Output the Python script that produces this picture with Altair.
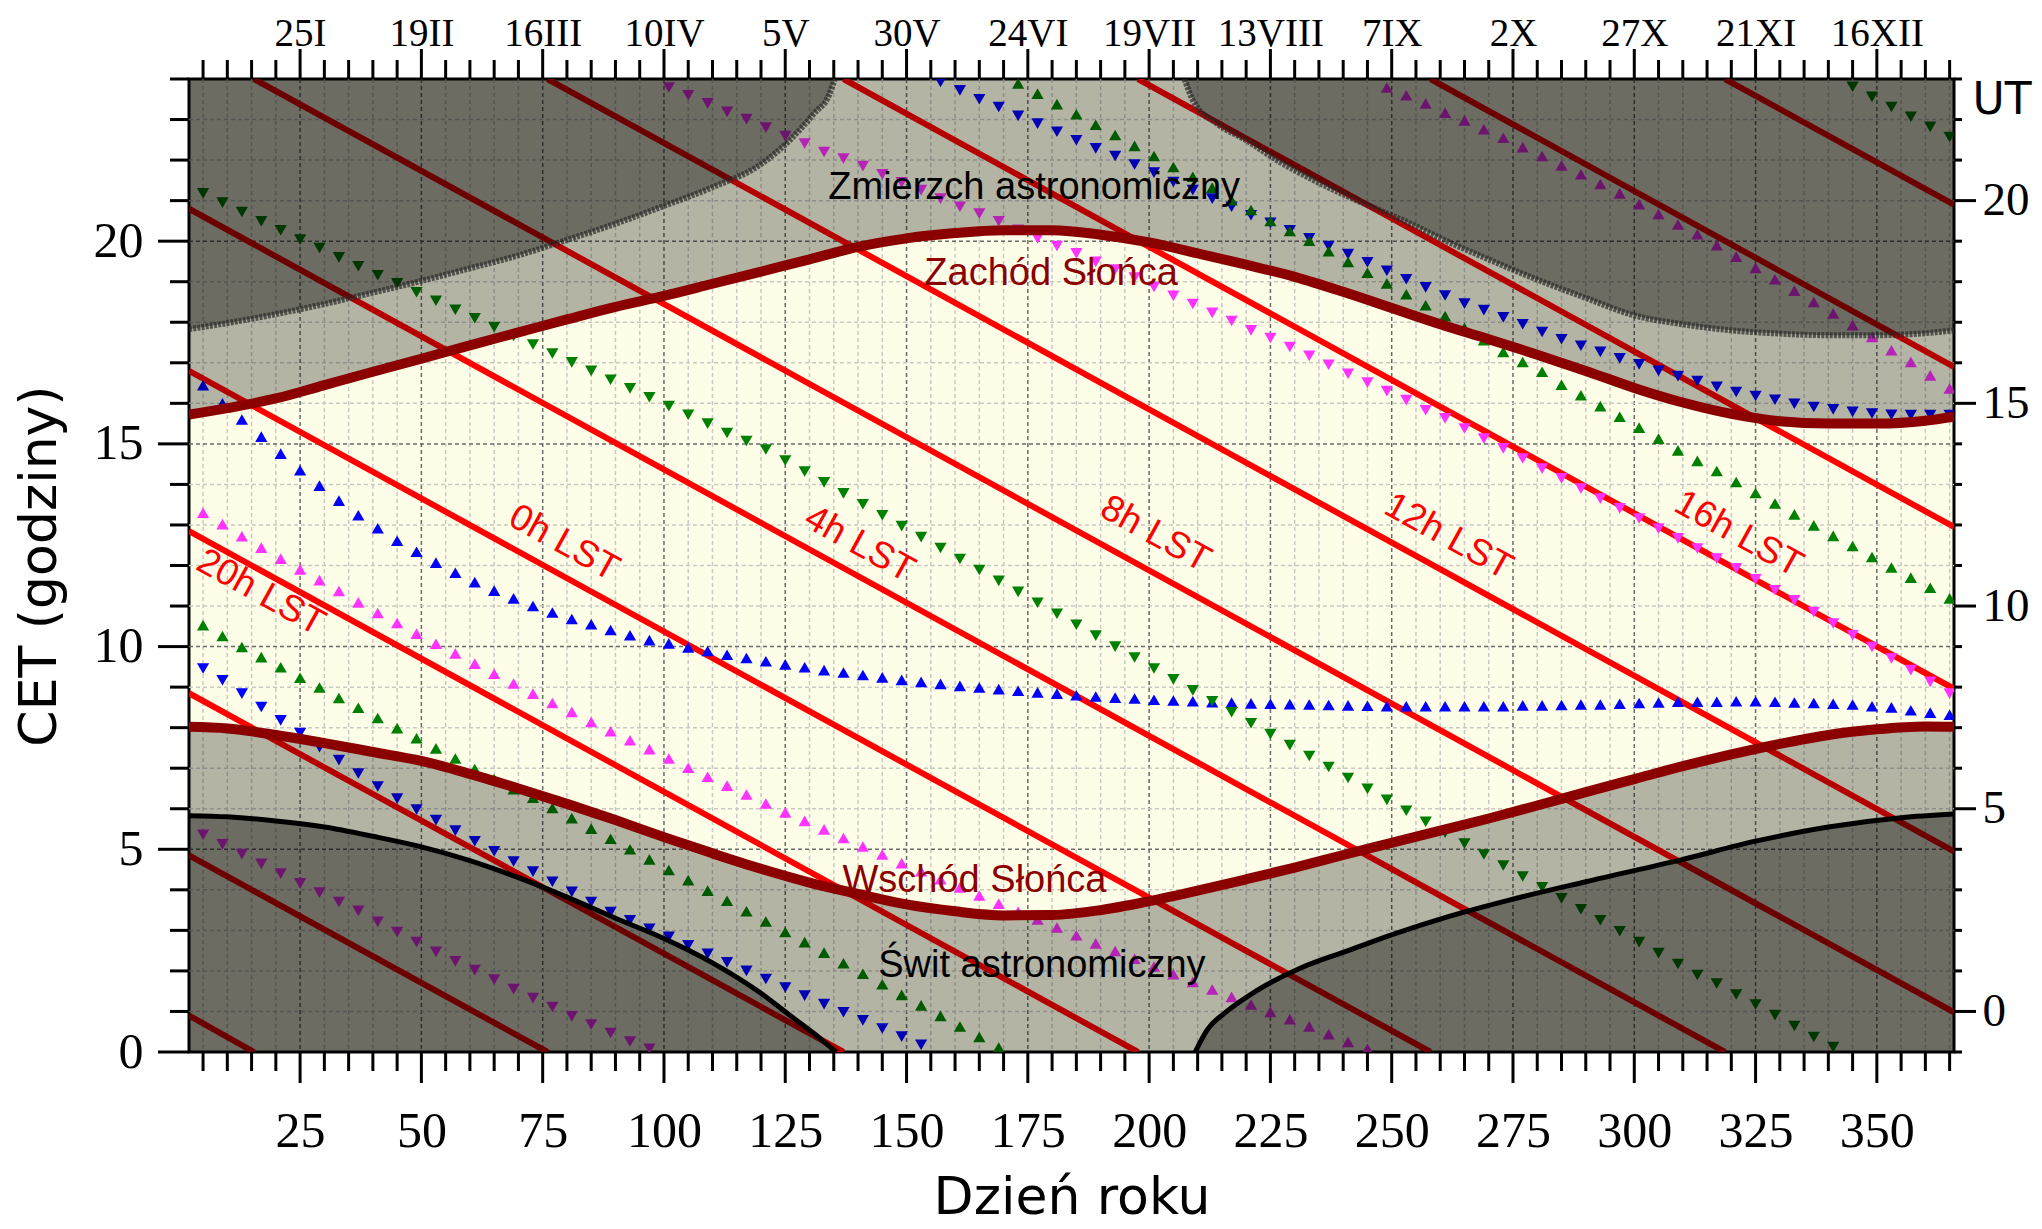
import altair as alt
import pandas as pd

# ---------------- data ----------------
X_MIN, X_MAX = 2.1, 365.9
W, H = 1765, 973

marker_days = list(range(5, 366, 4))

blue_up = [16.45, 16.0, 15.6, 15.18,
           14.76, 14.35, 13.97, 13.6, 13.24, 12.92, 12.61, 12.34, 12.07, 11.82, 11.59, 11.38, 11.19, 11.0, 10.84, 10.68, 10.55, 10.41, 10.28, 10.16, 10.08,
           9.98, 9.89, 9.8, 9.72, 9.64, 9.56, 9.49, 9.42, 9.36, 9.3, 9.24, 9.18, 9.13, 9.08, 9.03, 8.99, 8.95, 8.91, 8.87, 8.84, 8.8, 8.77, 8.74, 8.72, 8.69, 8.67, 8.65, 8.63, 8.62, 8.6, 8.59, 8.58, 8.57, 8.56, 8.55, 8.54, 8.53,
           8.53, 8.53, 8.53, 8.53, 8.53, 8.53, 8.55, 8.55, 8.56, 8.57, 8.57, 8.59, 8.61, 8.62, 8.64, 8.64, 8.64, 8.65, 8.65, 8.64, 8.62, 8.61, 8.59, 8.57, 8.53, 8.5, 8.43, 8.37, 8.32]

blue_dn = [9.46, 9.17, 8.84, 8.51, 8.18, 7.87,
           7.52, 7.2, 6.87, 6.55, 6.25,
           5.98, 5.72, 5.46, 5.2, 4.95, 4.7, 4.45, 4.2, 3.95,
           3.7, 3.45, 3.25, 3.04, 2.84, 2.63,
           2.42, 2.21, 2.0, 1.8, 1.59, 1.39, 1.18, 0.98, 0.78, 0.58, 0.38, 0.18, 23.93,
           23.72, 23.5, 23.31, 23.09, 22.9, 22.7, 22.49, 22.29, 22.1, 21.89, 21.69, 21.46, 21.26, 21.05, 20.85, 20.64, 20.45, 20.27, 20.07, 19.88,
           19.68, 19.48, 19.27, 19.06, 18.86, 18.66,
           18.46, 18.3, 18.12, 17.95, 17.76, 17.58, 17.42, 17.27, 17.11, 16.96, 16.8, 16.67, 16.55, 16.41, 16.28, 16.18, 16.09, 15.99, 15.91, 15.85, 15.79, 15.75, 15.72, 15.71, 15.71, 15.71]

green_up = [10.53, 10.26, 9.99, 9.74, 9.49, 9.23, 8.99, 8.73, 8.49, 8.24, 7.99, 7.74, 7.49, 7.24, 6.98, 6.73, 6.48, 6.27,
            6.02, 5.77, 5.51, 5.26, 5.0, 4.75, 4.49, 4.24, 3.98, 3.73, 3.47, 3.22, 2.96, 2.71, 2.45, 2.19, 1.93, 1.67, 1.41, 1.15, 0.89, 0.63, 0.37, 0.11,
            23.89, 23.64, 23.38, 23.13, 22.87, 22.62, 22.35, 22.1, 21.83, 21.59, 21.32, 21.01, 20.77, 20.5, 20.25, 20.01,
            19.75, 19.49, 19.22, 18.96, 18.69, 18.42, 18.15, 17.86, 17.56,
            17.27, 17.02, 16.78, 16.46, 16.2, 15.93, 15.67, 15.4, 15.13, 14.84, 14.58, 14.33, 14.06, 13.79, 13.53, 13.26, 12.99, 12.73, 12.48, 12.21, 11.95, 11.7, 11.45, 11.19]

green_dn = [21.18, 20.95, 20.72, 20.49, 20.27, 20.04, 19.83, 19.6, 19.38, 19.16, 18.96,
            18.74, 18.53, 18.31, 18.1, 17.88, 17.66, 17.45, 17.23, 17.01, 16.8, 16.58, 16.37, 16.15, 15.93, 15.72,
            15.5, 15.27, 15.07, 14.86,
            14.59, 14.32, 14.05, 13.78, 13.51, 13.24, 12.97, 12.7, 12.43, 12.16, 11.89, 11.62, 11.35, 11.08, 10.81, 10.54, 10.27, 10.0, 9.73, 9.46, 9.19, 8.92, 8.65, 8.38, 8.11, 7.84, 7.57, 7.3, 7.03, 6.76, 6.49, 6.22, 5.95, 5.68, 5.41, 5.14, 4.87, 4.6, 4.33, 4.06, 3.79, 3.52, 3.25, 2.98, 2.71, 2.44, 2.17, 1.9,
            1.69, 1.42, 1.17, 0.91, 0.64, 0.37, 0.12,
            23.81, 23.56, 23.31, 23.07, 22.82, 22.57]

mag_up = [13.3, 13.02, 12.72, 12.44, 12.17, 11.9, 11.64, 11.37, 11.09, 10.83, 10.58, 10.32, 10.07, 9.83, 9.58, 9.33, 9.09, 8.84, 8.61, 8.39, 8.14, 7.91, 7.69, 7.47, 7.24,
          7.01, 6.79, 6.57, 6.35, 6.13, 5.91, 5.7, 5.49, 5.28, 5.07, 4.87, 4.66, 4.46, 4.26, 4.06, 3.86, 3.66, 3.46, 3.27, 3.07, 2.88, 2.68, 2.49, 2.3, 2.11, 1.92, 1.73, 1.54, 1.36, 1.17, 0.99, 0.81, 0.63, 0.44, 0.25, 0.08,
          23.79, 23.6, 23.4, 23.17, 22.98, 22.76,
          22.55, 22.32, 22.1, 21.87, 21.65, 21.41, 21.18, 20.91, 20.67, 20.41, 20.17, 19.9,
          19.62, 19.34, 19.06, 18.78,
          18.5, 18.22, 17.93, 17.64, 17.31, 17.02, 16.69, 16.37]

mag_dn = [5.36, 5.12, 4.88, 4.64, 4.4, 4.16, 3.93,
          3.7, 3.48, 3.21, 2.96, 2.71, 2.47, 2.24, 2.02, 1.79, 1.55, 1.33, 1.11, 0.88, 0.68, 0.47, 0.26, 0.08,
          23.79, 23.6, 23.4, 23.19, 23.01, 22.8, 22.59, 22.41,
          22.2, 22.04, 21.85, 21.65, 21.45, 21.26, 21.05, 20.85, 20.68, 20.49,
          20.28,
          20.07, 19.88, 19.7, 19.49, 19.3, 19.1, 18.87, 18.65, 18.45, 18.23, 18.03, 17.8, 17.61, 17.39,
          17.17, 16.95, 16.73, 16.51, 16.3,
          16.08, 15.83, 15.63, 15.38, 15.13, 14.89, 14.64, 14.39, 14.15, 13.9, 13.65, 13.41, 13.16, 12.91, 12.67, 12.42, 12.17, 11.93, 11.66, 11.39, 11.14, 10.85, 10.57, 10.28, 9.99, 9.71, 9.42, 9.13, 8.84]

curve_days = [2.1, 10, 20, 30, 40, 50, 60, 70, 80, 90, 100, 110, 120, 130, 140, 150, 160, 170, 180,
              190, 200, 210, 220, 230, 240, 250, 260, 270, 280, 290, 300, 310, 320, 330, 340, 350, 360, 365.9]
sunset = [15.72, 15.88, 16.12, 16.45, 16.78, 17.1, 17.43, 17.75, 18.07, 18.38, 18.65, 18.95, 19.25, 19.55, 19.86, 20.07, 20.2, 20.27, 20.27,
          20.16, 19.97, 19.7, 19.42, 19.12, 18.75, 18.35, 17.95, 17.58, 17.2, 16.8, 16.38, 16.02, 15.74, 15.56, 15.5, 15.5, 15.57, 15.67]
sunrise = [8.02, 7.98, 7.82, 7.62, 7.4, 7.18, 6.86, 6.5, 6.12, 5.72, 5.3, 4.9, 4.52, 4.18, 3.9, 3.64, 3.47, 3.37, 3.38,
           3.5, 3.72, 3.98, 4.26, 4.55, 4.86, 5.16, 5.46, 5.76, 6.08, 6.41, 6.73, 7.05, 7.34, 7.6, 7.82, 7.96, 8.03, 8.02]

dusk_left_days = [2.1, 10, 20, 30, 40, 50, 60, 70, 80, 90, 100, 110, 120, 126, 131, 134, 135.2]
dusk_left = [17.83, 17.98, 18.2, 18.45, 18.73, 19.02, 19.33, 19.65, 20.03, 20.43, 20.87, 21.33, 21.9, 22.5, 23.16, 23.6, 24.0]
dusk_right_days = [207.3, 209, 214, 220, 227, 234, 241, 248, 255, 261, 270, 280, 290, 300, 310, 320, 330, 340, 350, 360, 365.9]
dusk_right = [24.0, 23.48, 22.9, 22.49, 21.95, 21.5, 21.1, 20.74, 20.37, 20.02, 19.55, 19.05, 18.6, 18.17, 17.95, 17.8, 17.72, 17.68, 17.68, 17.73, 17.8]

dawn_left_days = [2.1, 10, 20, 30, 40, 50, 60, 70, 80, 90, 100, 110, 120, 126, 131, 134, 135.5]
dawn_left = [5.83, 5.8, 5.7, 5.55, 5.32, 5.06, 4.72, 4.3, 3.82, 3.3, 2.8, 2.2, 1.45, 0.9, 0.45, 0.15, 0.0]
dawn_right_days = [209.5, 212, 216, 222, 231, 241, 251, 262, 274, 290, 310, 325, 340, 355, 365.9]
dawn_right = [0.0, 0.55, 1.0, 1.5, 2.06, 2.5, 2.93, 3.35, 3.74, 4.2, 4.75, 5.2, 5.55, 5.78, 5.87]

lst_x1 = [2.1, 15.5, 2.1, 76.0, 2.1, 137.0, 2.1, 197.7, 2.1, 258.0, 2.1, 318.7]
lst_y1 = [0.9, 24.0, 4.85, 24.0, 8.85, 24.0, 12.85, 24.0, 16.8, 24.0, 20.8, 24.0]
lst_x2 = [15.5, 365.9, 76.0, 365.9, 137.0, 365.9, 197.7, 365.9, 258.0, 365.9, 318.7, 365.9]
lst_y2 = [0.0, 0.98, 0.0, 4.95, 0.0, 8.96, 0.0, 12.95, 0.0, 16.9, 0.0, 20.9]

lst_label_text = ['20h LST', '0h LST', '4h LST', '8h LST', '12h LST', '16h LST']
lst_label_x = [16.9, 79.4, 140.3, 201.3, 261.7, 321.5]
lst_label_y = [11.33, 12.55, 12.52, 12.77, 12.71, 12.77]

note_text = ['Zmierzch astronomiczny', 'Zachód Słońca', 'Wschód Słońca', 'Świt astronomiczny']
note_x = [176.3, 179.8, 164.0, 177.9]
note_y = [21.03, 18.93, 3.94, 1.85]
note_color = ['black', '#8b0000', '#8b0000', 'black']

x_major = [25, 50, 75, 100, 125, 150, 175, 200, 225, 250, 275, 300, 325, 350]
x_minor = [v for v in range(5, 366, 5) if v % 25 != 0]
date_labels = ['25I', '19II', '16III', '10IV', '5V', '30V', '24VI', '19VII', '13VIII', '7IX', '2X', '27X', '21XI', '16XII']
y_major = [0, 5, 10, 15, 20]
y_minor = [v for v in range(1, 25) if v % 5 != 0]
ut_major = [1, 6, 11, 16, 21]
ut_minor = [v for v in range(0, 25) if v not in ut_major]

# ---------------- chart ----------------
xs = alt.Scale(domain=[X_MIN, X_MAX], nice=False, zero=False)
ys = alt.Scale(domain=[0, 24], nice=False, zero=False)


def X(f):
    return alt.X(f, type='quantitative', scale=xs, axis=None)


def Y(f):
    return alt.Y(f, type='quantitative', scale=ys, axis=None)


layers = []

# grid
for vals, col in [(x_minor, '#c9c9c4'), (x_major, '#6a6a6a')]:
    layers.append(alt.Chart(pd.DataFrame({'t': vals})).mark_rule(
        color=col, strokeWidth=1.5, strokeDash=[4, 3]).encode(
        x=X('t'), y=alt.value(0), y2=alt.value(H)))
for vals, col in [([v for v in range(1, 24) if v % 5 != 0], '#c9c9c4'), ([5, 10, 15, 20], '#6a6a6a')]:
    layers.append(alt.Chart(pd.DataFrame({'t': vals})).mark_rule(
        color=col, strokeWidth=1.5, strokeDash=[4, 3]).encode(
        y=Y('t'), x=alt.value(0), x2=alt.value(W)))

# LST lines
lst_df = pd.DataFrame({'x1': lst_x1, 'y1': lst_y1, 'x2': lst_x2, 'y2': lst_y2})
layers.append(alt.Chart(lst_df).mark_rule(color='#ff0000', strokeWidth=6, clip=True).encode(
    x=X('x1'), y=Y('y1'), x2='x2:Q', y2='y2:Q'))

# markers
series = [(blue_up, 'triangle-up', '#0000ff'), (blue_dn, 'triangle-down', '#0000ff'),
          (green_up, 'triangle-up', '#008000'), (green_dn, 'triangle-down', '#008000'),
          (mag_up, 'triangle-up', '#ff33ff'), (mag_dn, 'triangle-down', '#ff33ff')]
for vals, shp, col in series:
    d = pd.DataFrame({'day': marker_days, 't': vals})
    layers.append(alt.Chart(d).mark_point(shape=shp, filled=True, size=150, color=col, opacity=1, clip=True).encode(
        x=X('day'), y=Y('t')))

# overlays (twilight + night)
cdf = pd.DataFrame({'day': curve_days, 'sunset': sunset, 'sunrise': sunrise})
layers.append(alt.Chart(cdf).mark_area(color='black', opacity=0.29, interpolate='monotone', clip=True).encode(
    x=X('day'), y=Y('sunset'), y2=alt.datum(24)))
layers.append(alt.Chart(cdf).mark_area(color='black', opacity=0.29, interpolate='monotone', clip=True).encode(
    x=X('day'), y=Y('sunrise'), y2=alt.datum(0)))

dusk_df = pd.DataFrame({'day': dusk_left_days + dusk_right_days, 'v': dusk_left + dusk_right,
                        'seg': ['a'] * len(dusk_left) + ['b'] * len(dusk_right)})
dawn_df = pd.DataFrame({'day': dawn_left_days + dawn_right_days, 'v': dawn_left + dawn_right,
                        'seg': ['a'] * len(dawn_left) + ['b'] * len(dawn_right)})
layers.append(alt.Chart(dusk_df).mark_area(color='black', opacity=0.4, interpolate='monotone', clip=True).encode(
    x=X('day'), y=Y('v'), y2=alt.datum(24), detail='seg:N'))
layers.append(alt.Chart(dawn_df).mark_area(color='black', opacity=0.4, interpolate='monotone', clip=True).encode(
    x=X('day'), y=Y('v'), y2=alt.datum(0), detail='seg:N'))

# twilight curves
layers.append(alt.Chart(dusk_df).mark_line(color='#2a2a2a', opacity=0.7, strokeWidth=6, strokeDash=[3, 1.2],
                                           interpolate='monotone', clip=True).encode(
    x=X('day'), y=Y('v'), detail='seg:N'))
layers.append(alt.Chart(dawn_df).mark_line(color='black', strokeWidth=5, interpolate='monotone', clip=True).encode(
    x=X('day'), y=Y('v'), detail='seg:N'))

# sunrise / sunset
layers.append(alt.Chart(cdf).mark_line(color='#8b0000', strokeWidth=10, interpolate='monotone', clip=True).encode(
    x=X('day'), y=Y('sunset')))
layers.append(alt.Chart(cdf).mark_line(color='#8b0000', strokeWidth=10, interpolate='monotone', clip=True).encode(
    x=X('day'), y=Y('sunrise')))

# texts
ndf = pd.DataFrame({'x': note_x, 'y': note_y, 'text': note_text, 'c': note_color})
layers.append(alt.Chart(ndf).mark_text(font='Liberation Sans', fontSize=38, baseline='alphabetic', align='center').encode(
    x=X('x'), y=Y('y'), text='text:N', color=alt.Color('c:N', scale=None)))
ldf = pd.DataFrame({'x': lst_label_x, 'y': lst_label_y, 'text': lst_label_text})
layers.append(alt.Chart(ldf).mark_text(font='Liberation Sans', fontSize=37, baseline='middle', align='center',
                                       angle=29, color='#ff0000').encode(
    x=X('x'), y=Y('y'), text='text:N'))

# ticks (drawn outside plot)
tick_specs = [
    (x_minor, 'x', H, H + 19), (x_major, 'x', H, H + 31),
    (x_minor, 'x', 0, -19), (x_major, 'x', 0, -30),
    (y_minor, 'y', 0, -19), (y_major, 'y', 0, -31),
    (ut_minor, 'y', W, W + 8), (ut_major, 'y', W, W + 22),
]
for vals, ch, a, b in tick_specs:
    d = pd.DataFrame({'t': vals})
    if ch == 'x':
        enc = dict(x=X('t'), y=alt.value(a), y2=alt.value(b))
    else:
        enc = dict(y=Y('t'), x=alt.value(a), x2=alt.value(b))
    layers.append(alt.Chart(d).mark_rule(color='black', strokeWidth=3).encode(**enc))

# axes carriers
ax_df = pd.DataFrame({'x': [X_MIN], 'y': [0.0]})
label_expr_top = "[" + ",".join("'%s'" % s for s in date_labels) + "][round(datum.value/25)-1]"
bottom_left = alt.Chart(ax_df).mark_point(opacity=0).encode(
    x=alt.X('x:Q', scale=xs, axis=alt.Axis(
        orient='bottom', values=x_major, ticks=False, domain=False, grid=False,
        labelFont='Liberation Serif', labelFontSize=50, labelColor='black', labelPadding=94,
        labelBaseline='alphabetic', labelFlush=False, labelOverlap=False,
        title='Dzień roku', titleFont='DejaVu Sans', titleFontSize=52, titleFontWeight='normal',
        titleColor='black', titleX=W / 2, titleY=161, titleBaseline='alphabetic', titleAlign='center')),
    y=alt.Y('y:Q', scale=ys, axis=alt.Axis(
        orient='left', values=y_major, ticks=False, domain=False, grid=False,
        labelFont='Liberation Serif', labelFontSize=50, labelColor='black', labelPadding=46,
        labelBaseline='middle', labelFlush=False, labelOverlap=False,
        title='CET (godziny)', titleFont='DejaVu Sans', titleFontSize=52, titleFontWeight='normal',
        titleColor='black', titleX=-150, titleY=H / 2, titleAngle=270, titleBaseline='middle',
        titleAlign='center')))
top_right = alt.Chart(ax_df).mark_point(opacity=0).encode(
    x=alt.X('x:Q', scale=xs, axis=alt.Axis(
        orient='top', values=x_major, ticks=False, domain=False, grid=False, labelExpr=label_expr_top,
        labelFont='Liberation Serif', labelFontSize=39, labelColor='black', labelPadding=34,
        labelBaseline='alphabetic', labelFlush=False, labelOverlap=False, title=None)),
    y=alt.Y('y:Q', scale=ys, axis=alt.Axis(
        orient='right', values=ut_major, ticks=False, domain=False, grid=False,
        labelExpr="'' + (datum.value - 1)",
        labelFont='Liberation Serif', labelFontSize=47, labelColor='black', labelPadding=28,
        labelBaseline='middle', labelFlush=False, labelOverlap=False,
        title='UT', titleFont='DejaVu Sans', titleFontSize=44, titleFontWeight='normal', titleColor='black',
        titleAngle=0, titleX=18, titleY=34, titleAlign='left', titleBaseline='alphabetic')))

chart = alt.layer(bottom_left, top_right, *layers).resolve_axis(
    x='independent', y='independent'
).properties(
    width=W, height=H,
    padding={'left': 181, 'top': 71, 'right': 80, 'bottom': 176},
    autosize=alt.AutoSizeParams(type='none'),
).configure_view(fill='#fefee8', stroke='black', strokeWidth=3)

chart.save("out.html", embed_options={"renderer": "svg", "actions": False})
